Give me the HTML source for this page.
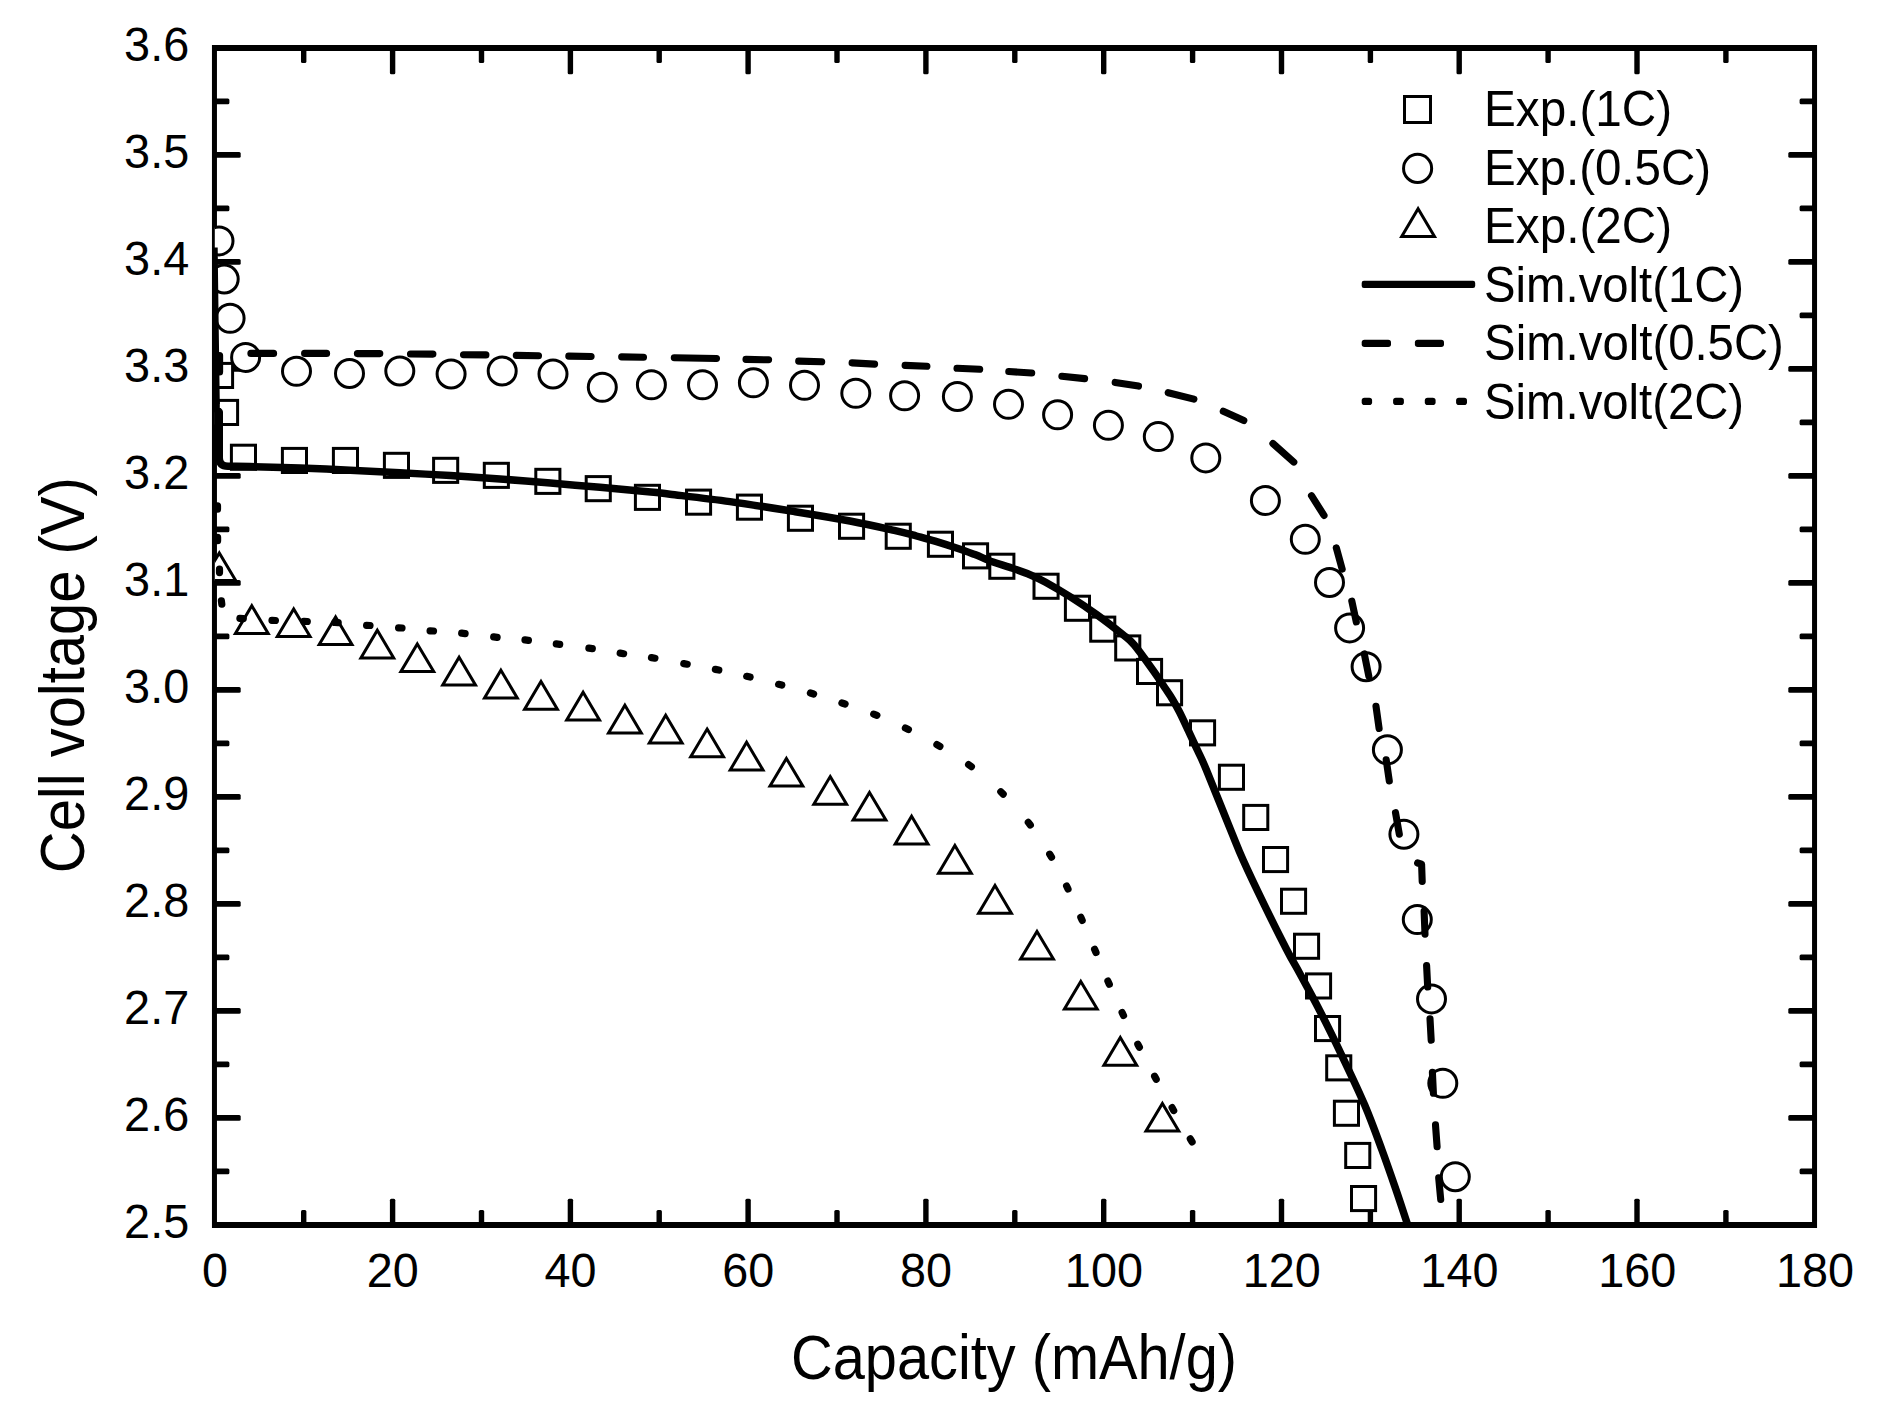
<!DOCTYPE html>
<html lang="en">
<head>
<meta charset="utf-8">
<title>Cell voltage vs capacity</title>
<style>
html,body{margin:0;padding:0;background:#fff;}
body{width:1877px;height:1410px;overflow:hidden;}
svg{display:block;}
</style>
</head>
<body>
<svg width="1877" height="1410" viewBox="0 0 1877 1410" font-family="'Liberation Sans', sans-serif" fill="#000">
<rect x="0" y="0" width="1877" height="1410" fill="#fff"/>
<defs><clipPath id="plot"><rect x="214.8" y="47.95" width="1599.7" height="1177.05"/></clipPath></defs>
<path id="frame" fill="#000" fill-rule="evenodd" d="M211.95 44.95H1817.05V1228H211.95ZM216.95 50.95V1222H1812.05V50.95Z"/>
<g id="ticks" fill="#000">
<rect x="301" y="1210.1" width="5.4" height="14.9" rx="1.5"/>
<rect x="301" y="48" width="5.4" height="14.9" rx="1.5"/>
<rect x="389.9" y="1198.8" width="5.4" height="26.2" rx="1.5"/>
<rect x="389.9" y="48" width="5.4" height="26.2" rx="1.5"/>
<rect x="478.8" y="1210.1" width="5.4" height="14.9" rx="1.5"/>
<rect x="478.8" y="48" width="5.4" height="14.9" rx="1.5"/>
<rect x="567.7" y="1198.8" width="5.4" height="26.2" rx="1.5"/>
<rect x="567.7" y="48" width="5.4" height="26.2" rx="1.5"/>
<rect x="656.5" y="1210.1" width="5.4" height="14.9" rx="1.5"/>
<rect x="656.5" y="48" width="5.4" height="14.9" rx="1.5"/>
<rect x="745.4" y="1198.8" width="5.4" height="26.2" rx="1.5"/>
<rect x="745.4" y="48" width="5.4" height="26.2" rx="1.5"/>
<rect x="834.3" y="1210.1" width="5.4" height="14.9" rx="1.5"/>
<rect x="834.3" y="48" width="5.4" height="14.9" rx="1.5"/>
<rect x="923.2" y="1198.8" width="5.4" height="26.2" rx="1.5"/>
<rect x="923.2" y="48" width="5.4" height="26.2" rx="1.5"/>
<rect x="1012.1" y="1210.1" width="5.4" height="14.9" rx="1.5"/>
<rect x="1012.1" y="48" width="5.4" height="14.9" rx="1.5"/>
<rect x="1101" y="1198.8" width="5.4" height="26.2" rx="1.5"/>
<rect x="1101" y="48" width="5.4" height="26.2" rx="1.5"/>
<rect x="1189.9" y="1210.1" width="5.4" height="14.9" rx="1.5"/>
<rect x="1189.9" y="48" width="5.4" height="14.9" rx="1.5"/>
<rect x="1278.8" y="1198.8" width="5.4" height="26.2" rx="1.5"/>
<rect x="1278.8" y="48" width="5.4" height="26.2" rx="1.5"/>
<rect x="1367.7" y="1210.1" width="5.4" height="14.9" rx="1.5"/>
<rect x="1367.7" y="48" width="5.4" height="14.9" rx="1.5"/>
<rect x="1456.5" y="1198.8" width="5.4" height="26.2" rx="1.5"/>
<rect x="1456.5" y="48" width="5.4" height="26.2" rx="1.5"/>
<rect x="1545.4" y="1210.1" width="5.4" height="14.9" rx="1.5"/>
<rect x="1545.4" y="48" width="5.4" height="14.9" rx="1.5"/>
<rect x="1634.3" y="1198.8" width="5.4" height="26.2" rx="1.5"/>
<rect x="1634.3" y="48" width="5.4" height="26.2" rx="1.5"/>
<rect x="1723.2" y="1210.1" width="5.4" height="14.9" rx="1.5"/>
<rect x="1723.2" y="48" width="5.4" height="14.9" rx="1.5"/>
<rect x="214.5" y="1168.6" width="14.9" height="5.7" rx="1.5"/>
<rect x="1799.6" y="1168.6" width="14.9" height="5.7" rx="1.5"/>
<rect x="214.5" y="1115.1" width="26.2" height="5.7" rx="1.5"/>
<rect x="1788.3" y="1115.1" width="26.2" height="5.7" rx="1.5"/>
<rect x="214.5" y="1061.6" width="14.9" height="5.7" rx="1.5"/>
<rect x="1799.6" y="1061.6" width="14.9" height="5.7" rx="1.5"/>
<rect x="214.5" y="1008.1" width="26.2" height="5.7" rx="1.5"/>
<rect x="1788.3" y="1008.1" width="26.2" height="5.7" rx="1.5"/>
<rect x="214.5" y="954.6" width="14.9" height="5.7" rx="1.5"/>
<rect x="1799.6" y="954.6" width="14.9" height="5.7" rx="1.5"/>
<rect x="214.5" y="901.1" width="26.2" height="5.7" rx="1.5"/>
<rect x="1788.3" y="901.1" width="26.2" height="5.7" rx="1.5"/>
<rect x="214.5" y="847.6" width="14.9" height="5.7" rx="1.5"/>
<rect x="1799.6" y="847.6" width="14.9" height="5.7" rx="1.5"/>
<rect x="214.5" y="794.1" width="26.2" height="5.7" rx="1.5"/>
<rect x="1788.3" y="794.1" width="26.2" height="5.7" rx="1.5"/>
<rect x="214.5" y="740.6" width="14.9" height="5.7" rx="1.5"/>
<rect x="1799.6" y="740.6" width="14.9" height="5.7" rx="1.5"/>
<rect x="214.5" y="687.1" width="26.2" height="5.7" rx="1.5"/>
<rect x="1788.3" y="687.1" width="26.2" height="5.7" rx="1.5"/>
<rect x="214.5" y="633.6" width="14.9" height="5.7" rx="1.5"/>
<rect x="1799.6" y="633.6" width="14.9" height="5.7" rx="1.5"/>
<rect x="214.5" y="580.1" width="26.2" height="5.7" rx="1.5"/>
<rect x="1788.3" y="580.1" width="26.2" height="5.7" rx="1.5"/>
<rect x="214.5" y="526.6" width="14.9" height="5.7" rx="1.5"/>
<rect x="1799.6" y="526.6" width="14.9" height="5.7" rx="1.5"/>
<rect x="214.5" y="473.1" width="26.2" height="5.7" rx="1.5"/>
<rect x="1788.3" y="473.1" width="26.2" height="5.7" rx="1.5"/>
<rect x="214.5" y="419.6" width="14.9" height="5.7" rx="1.5"/>
<rect x="1799.6" y="419.6" width="14.9" height="5.7" rx="1.5"/>
<rect x="214.5" y="366.1" width="26.2" height="5.7" rx="1.5"/>
<rect x="1788.3" y="366.1" width="26.2" height="5.7" rx="1.5"/>
<rect x="214.5" y="312.6" width="14.9" height="5.7" rx="1.5"/>
<rect x="1799.6" y="312.6" width="14.9" height="5.7" rx="1.5"/>
<rect x="214.5" y="259.1" width="26.2" height="5.7" rx="1.5"/>
<rect x="1788.3" y="259.1" width="26.2" height="5.7" rx="1.5"/>
<rect x="214.5" y="205.6" width="14.9" height="5.7" rx="1.5"/>
<rect x="1799.6" y="205.6" width="14.9" height="5.7" rx="1.5"/>
<rect x="214.5" y="152.1" width="26.2" height="5.7" rx="1.5"/>
<rect x="1788.3" y="152.1" width="26.2" height="5.7" rx="1.5"/>
<rect x="214.5" y="98.6" width="14.9" height="5.7" rx="1.5"/>
<rect x="1799.6" y="98.6" width="14.9" height="5.7" rx="1.5"/>
</g>
<g id="xlabels" font-size="48.5" text-anchor="middle">
<text x="215" y="1286.7" textLength="26.0" lengthAdjust="spacingAndGlyphs">0</text>
<text x="392.8" y="1286.7" textLength="52.0" lengthAdjust="spacingAndGlyphs">20</text>
<text x="570.6" y="1286.7" textLength="52.0" lengthAdjust="spacingAndGlyphs">40</text>
<text x="748.3" y="1286.7" textLength="52.0" lengthAdjust="spacingAndGlyphs">60</text>
<text x="926.1" y="1286.7" textLength="52.0" lengthAdjust="spacingAndGlyphs">80</text>
<text x="1103.9" y="1286.7" textLength="78.1" lengthAdjust="spacingAndGlyphs">100</text>
<text x="1281.7" y="1286.7" textLength="78.1" lengthAdjust="spacingAndGlyphs">120</text>
<text x="1459.4" y="1286.7" textLength="78.1" lengthAdjust="spacingAndGlyphs">140</text>
<text x="1637.2" y="1286.7" textLength="78.1" lengthAdjust="spacingAndGlyphs">160</text>
<text x="1815" y="1286.7" textLength="78.1" lengthAdjust="spacingAndGlyphs">180</text>
</g>
<g id="ylabels" font-size="48.5" text-anchor="end">
<text x="189.2" y="1237.8" textLength="65.1" lengthAdjust="spacingAndGlyphs">2.5</text>
<text x="189.2" y="1130.8" textLength="65.1" lengthAdjust="spacingAndGlyphs">2.6</text>
<text x="189.2" y="1023.8" textLength="65.1" lengthAdjust="spacingAndGlyphs">2.7</text>
<text x="189.2" y="916.8" textLength="65.1" lengthAdjust="spacingAndGlyphs">2.8</text>
<text x="189.2" y="809.8" textLength="65.1" lengthAdjust="spacingAndGlyphs">2.9</text>
<text x="189.2" y="702.8" textLength="65.1" lengthAdjust="spacingAndGlyphs">3.0</text>
<text x="189.2" y="595.8" textLength="65.1" lengthAdjust="spacingAndGlyphs">3.1</text>
<text x="189.2" y="488.8" textLength="65.1" lengthAdjust="spacingAndGlyphs">3.2</text>
<text x="189.2" y="381.8" textLength="65.1" lengthAdjust="spacingAndGlyphs">3.3</text>
<text x="189.2" y="274.8" textLength="65.1" lengthAdjust="spacingAndGlyphs">3.4</text>
<text x="189.2" y="167.8" textLength="65.1" lengthAdjust="spacingAndGlyphs">3.5</text>
<text x="189.2" y="60.8" textLength="65.1" lengthAdjust="spacingAndGlyphs">3.6</text>
</g>
<text id="xtitle" x="791" y="1379.2" font-size="62.2" textLength="446" lengthAdjust="spacingAndGlyphs">Capacity (mAh/g)</text>
<text id="ytitle" transform="translate(83.6 873.2) rotate(-90)" font-size="62.2" textLength="396" lengthAdjust="spacingAndGlyphs">Cell voltage (V)</text>
<g id="data" clip-path="url(#plot)">
<g id="squares" stroke="#000" stroke-width="3" fill="#fff">
<rect x="208.5" y="363.4" width="24.1" height="24.1"/>
<rect x="213.5" y="400.4" width="24.1" height="24.1"/>
<rect x="231.4" y="445.2" width="24.1" height="24.1"/>
<rect x="282.4" y="448.4" width="24.1" height="24.1"/>
<rect x="333.4" y="448.4" width="24.1" height="24.1"/>
<rect x="384.4" y="453.3" width="24.1" height="24.1"/>
<rect x="433.6" y="458.3" width="24.1" height="24.1"/>
<rect x="484.3" y="463.3" width="24.1" height="24.1"/>
<rect x="535.8" y="469.3" width="24.1" height="24.1"/>
<rect x="586.2" y="476.6" width="24.1" height="24.1"/>
<rect x="635.4" y="485.3" width="24.1" height="24.1"/>
<rect x="686.5" y="490.1" width="24.1" height="24.1"/>
<rect x="737.4" y="495.1" width="24.1" height="24.1"/>
<rect x="788.4" y="506.2" width="24.1" height="24.1"/>
<rect x="839.5" y="514.2" width="24.1" height="24.1"/>
<rect x="886.2" y="524.2" width="24.1" height="24.1"/>
<rect x="928.4" y="532.2" width="24.1" height="24.1"/>
<rect x="963.5" y="543.8" width="24.1" height="24.1"/>
<rect x="989.8" y="554.2" width="24.1" height="24.1"/>
<rect x="1034" y="574.2" width="24.1" height="24.1"/>
<rect x="1065.4" y="596.2" width="24.1" height="24.1"/>
<rect x="1090.7" y="617.1" width="24.1" height="24.1"/>
<rect x="1115.7" y="635.9" width="24.1" height="24.1"/>
<rect x="1137.5" y="659.4" width="24.1" height="24.1"/>
<rect x="1157.5" y="680.7" width="24.1" height="24.1"/>
<rect x="1190.5" y="720.8" width="24.1" height="24.1"/>
<rect x="1219.4" y="765.2" width="24.1" height="24.1"/>
<rect x="1243.7" y="805.4" width="24.1" height="24.1"/>
<rect x="1263.5" y="847.5" width="24.1" height="24.1"/>
<rect x="1281.5" y="889.2" width="24.1" height="24.1"/>
<rect x="1294.5" y="934.2" width="24.1" height="24.1"/>
<rect x="1306.5" y="973.9" width="24.1" height="24.1"/>
<rect x="1315.5" y="1016.5" width="24.1" height="24.1"/>
<rect x="1326.7" y="1055.8" width="24.1" height="24.1"/>
<rect x="1334.4" y="1101.2" width="24.1" height="24.1"/>
<rect x="1345.7" y="1143.4" width="24.1" height="24.1"/>
<rect x="1351.5" y="1186.5" width="24.1" height="24.1"/>
</g>
<g id="circles" stroke="#000" stroke-width="3" fill="#fff">
<circle cx="219" cy="240.9" r="14"/>
<circle cx="224.2" cy="279" r="14"/>
<circle cx="230.1" cy="318.3" r="14"/>
<circle cx="245.6" cy="357.4" r="14"/>
<circle cx="296.5" cy="371.3" r="14"/>
<circle cx="349.5" cy="373.5" r="14"/>
<circle cx="399.8" cy="371" r="14"/>
<circle cx="451.1" cy="374" r="14"/>
<circle cx="502.2" cy="371" r="14"/>
<circle cx="553" cy="374" r="14"/>
<circle cx="602.3" cy="387.3" r="14"/>
<circle cx="651.4" cy="384.8" r="14"/>
<circle cx="702.5" cy="384.8" r="14"/>
<circle cx="753.4" cy="382.8" r="14"/>
<circle cx="804.5" cy="385.3" r="14"/>
<circle cx="855.8" cy="393.3" r="14"/>
<circle cx="904.6" cy="395.8" r="14"/>
<circle cx="957.4" cy="396.5" r="14"/>
<circle cx="1008.5" cy="404.3" r="14"/>
<circle cx="1057.6" cy="414.8" r="14"/>
<circle cx="1108.4" cy="425.3" r="14"/>
<circle cx="1158.3" cy="436.6" r="14"/>
<circle cx="1205.8" cy="457.9" r="14"/>
<circle cx="1265.4" cy="500.5" r="14"/>
<circle cx="1305.3" cy="539.3" r="14"/>
<circle cx="1329.5" cy="582.5" r="14"/>
<circle cx="1349.6" cy="627.9" r="14"/>
<circle cx="1366.1" cy="666.7" r="14"/>
<circle cx="1387.4" cy="749.8" r="14"/>
<circle cx="1403.9" cy="834.2" r="14"/>
<circle cx="1417.3" cy="919.6" r="14"/>
<circle cx="1431.5" cy="998.9" r="14"/>
<circle cx="1442.8" cy="1083.3" r="14"/>
<circle cx="1455.3" cy="1176.7" r="14"/>
</g>
<g id="triangles" stroke="#000" stroke-width="3" fill="#fff" stroke-linejoin="miter">
<path d="M219.3 552.9L235.7 580.6L202.9 580.6Z"/>
<path d="M251.8 605.8L268.2 633.5L235.4 633.5Z"/>
<path d="M293.7 608.9L310.1 636.6L277.3 636.6Z"/>
<path d="M335.6 616.9L352 644.6L319.2 644.6Z"/>
<path d="M377.3 630.2L393.7 657.9L360.9 657.9Z"/>
<path d="M417.3 643.9L433.7 671.6L400.9 671.6Z"/>
<path d="M459.1 657.2L475.5 684.9L442.7 684.9Z"/>
<path d="M500.9 670.2L517.3 697.9L484.5 697.9Z"/>
<path d="M541 681.5L557.4 709.2L524.6 709.2Z"/>
<path d="M583.1 692.3L599.5 720L566.7 720Z"/>
<path d="M624.9 705.3L641.3 733L608.5 733Z"/>
<path d="M665.7 715.3L682.1 743L649.3 743Z"/>
<path d="M707.1 729.1L723.5 756.8L690.7 756.8Z"/>
<path d="M746.6 742.3L763 770L730.2 770Z"/>
<path d="M786.4 758.4L802.8 786.1L770 786.1Z"/>
<path d="M830.2 776.6L846.6 804.3L813.8 804.3Z"/>
<path d="M869.5 792.4L885.9 820.1L853.1 820.1Z"/>
<path d="M911.6 816.2L928 843.9L895.2 843.9Z"/>
<path d="M954.9 845.5L971.3 873.2L938.5 873.2Z"/>
<path d="M995 885.5L1011.4 913.2L978.6 913.2Z"/>
<path d="M1037 931.4L1053.4 959.1L1020.6 959.1Z"/>
<path d="M1080.8 981.4L1097.2 1009.1L1064.4 1009.1Z"/>
<path d="M1120.3 1037.5L1136.7 1065.2L1103.9 1065.2Z"/>
<path d="M1162.4 1103.4L1178.8 1131.1L1146 1131.1Z"/>
</g>
</g>
<path id="sim1c" d="M216.05 402L216.05 408.5L219.25 412L219.25 458Q219.3 466.2 228 466.3L232 466.3C235.0 466.4 238.7 466.3 250.0 466.6C261.3 466.9 283.3 467.5 300.0 468.1C316.7 468.7 333.5 469.4 350.2 470.2C366.9 471.0 383.3 471.8 400.0 472.7C416.7 473.6 433.7 474.6 450.4 475.6C467.1 476.7 483.3 477.8 500.0 479.0C516.7 480.2 533.8 481.7 550.5 483.1C567.2 484.5 583.3 485.8 600.0 487.3C616.7 488.8 639.0 490.8 650.7 491.9C662.4 493.0 656.8 492.6 670.0 494.2C683.2 495.8 709.1 498.7 730.0 501.6C750.9 504.5 775.2 508.5 795.2 511.7C815.2 514.9 833.3 517.9 850.0 521.0C866.7 524.1 884.2 528.1 895.3 530.6C906.4 533.1 909.8 534.2 916.4 536.0C923.0 537.8 928.1 539.1 935.0 541.2C941.9 543.3 951.3 546.3 958.0 548.5C964.7 550.7 969.1 552.4 975.0 554.6C980.9 556.9 987.3 559.9 993.1 562.0C998.9 564.1 1003.9 565.3 1010.0 567.4C1016.1 569.5 1024.1 572.2 1030.0 574.7C1035.9 577.2 1038.7 578.4 1045.6 582.2C1052.5 586.0 1062.7 592.0 1071.2 597.4C1079.7 602.8 1088.2 608.5 1096.7 614.6C1105.2 620.7 1116.1 629.2 1122.3 634.2C1128.5 639.2 1129.0 638.8 1134.1 644.8C1139.2 650.8 1147.9 663.2 1153.0 670.3C1158.1 677.4 1161.5 682.7 1164.7 687.5C1167.9 692.3 1169.9 695.1 1172.4 699.2C1174.9 703.3 1176.8 706.7 1179.5 712.0C1182.2 717.3 1185.6 724.8 1188.6 731.2C1191.6 737.6 1194.6 743.9 1197.5 750.3C1200.4 756.7 1200.7 756.2 1206.2 769.5C1211.7 782.8 1224.4 814.7 1230.6 829.8C1236.8 844.9 1237.5 847.5 1243.1 860.0C1248.7 872.5 1257.0 889.9 1264.3 904.8C1271.5 919.7 1280.7 938.0 1286.6 949.5C1292.5 961.0 1294.3 963.4 1299.8 973.5C1305.3 983.6 1312.5 996.5 1319.4 1010.0C1326.4 1023.5 1334.0 1039.0 1341.5 1054.8C1349.0 1070.6 1357.9 1089.0 1364.6 1104.8C1371.3 1120.6 1376.6 1135.4 1381.8 1149.5C1387.0 1163.6 1391.6 1177.0 1395.9 1189.5C1400.2 1202.0 1405.6 1218.7 1407.6 1224.5" stroke="#000" stroke-width="7.5" fill="none" stroke-linejoin="round" stroke-linecap="butt"/>
<path d="M214 247.5L217.7 247.5Q218.2 290 218.9 340L219.8 404L214 404Z" fill="#000"/>
<path d="M215.6 398V452" stroke="#000" stroke-width="2.6" fill="none"/>
<path id="sim05c" d="M219.6 355.5L219.6 372M250.9 353.4L273.6 353.4M304.6 353.4L326.6 353.4M357.4 353.6L379.8 353.6M410.5 354.0L432.9 354.1M463.5 354.7L485.9 354.9M516.3 355.4L538.5 355.7M568.8 356.1L591.1 356.5M621.7 356.9L643.5 357.2M674.3 357.8L716.5 358.5M746.0 359.4L768.6 359.8M798.7 361.1L821.7 361.8M852.1 362.9L874.6 364.1M905.1 365.4L926.9 366.3M957.0 368.3L979.7 369.3M1008.8 371.5L1031.7 373.0M1061.9 376.2L1084.6 378.6M1115.2 382.4L1138.5 386.1M1168.2 392.7L1193.9 399.1M1223.3 411.3L1243.8 420.5M1272.9 443.5L1293.8 462.1M1311.5 495.7L1324.0 515.4M1336.3 547.8L1342.2 569.2M1351.8 601.1L1356.3 621.9M1364.3 653.9L1368.8 676.1M1376.0 706.3L1379.1 728.5M1386.2 759.8L1389.3 780.9M1395.5 812.7L1399.3 834.2M1417.6 863.0L1421.6 864.2L1422.2 881.5M1424.1 911.1L1425.0 934.1M1426.6 965.5L1427.7 987.0M1430.0 1018.7L1431.2 1040.2M1432.4 1072.3L1433.4 1093.3M1435.5 1124.9L1437.1 1146.7M1438.7 1177.9L1440.7 1199.5" stroke="#000" stroke-width="7.1" fill="none" stroke-linecap="round" stroke-linejoin="round"/>
<path id="sim2c" d="M217.5 505.8L217.5 509.2M217.6 537.3L217.6 540.7M219.5 569.2L219.5 572.6M221.4 600.8L221.8 604.2M239.9 618.4L243.3 618.6M272.0 620.3L275.4 620.5M303.9 621.3L307.3 621.5M334.8 622.5L338.2 622.7M366.6 625.3L370.0 625.5M398.6 627.8L402.0 628.0M430.1 630.8L433.5 631.0M461.7 633.2L465.1 633.6M493.7 636.9L497.1 637.3M525.0 639.9L528.4 640.3M556.3 643.9L559.7 644.3M588.9 648.2L592.3 648.6M620.2 653.1L623.6 653.7M651.5 657.6L654.9 658.2M683.8 663.6L687.2 664.2M715.4 669.4L718.8 670.0M746.7 676.3L750.1 677.1M778.6 684.3L781.8 685.1M810.4 693.0L813.6 694.0M841.9 703.0L845.1 704.0M873.7 714.1L876.9 715.3M905.4 728.1L908.4 729.5M936.9 744.6L939.9 746.4M968.6 764.6L971.4 766.6M1000.8 791.7L1003.2 794.1M1028.3 822.4L1030.3 825.0M1049.7 854.2L1051.5 857.2M1066.6 886.0L1068.0 889.0M1080.8 917.2L1082.2 920.4M1094.6 949.3L1096.0 952.5M1107.9 981.1L1109.3 984.3M1122.1 1012.5L1123.5 1015.5M1137.8 1044.2L1139.4 1047.2M1154.6 1076.3L1156.2 1079.3M1172.1 1107.6L1173.7 1110.6M1190.3 1138.9L1192.1 1141.9" stroke="#000" stroke-width="7.2" fill="none" stroke-linecap="round"/>
<g id="legend">
<rect x="1404.5" y="96.5" width="26" height="26" stroke="#000" stroke-width="3" fill="none"/>
<circle cx="1417.6" cy="168.4" r="14.05" stroke="#000" stroke-width="3" fill="none"/>
<path d="M1418.1 208.7L1434.5 236.4L1401.7 236.4Z" stroke="#000" stroke-width="3" fill="none"/>
<rect x="1361.7" y="280.7" width="113.5" height="7.3" rx="2.2"/>
<rect x="1361.7" y="339.8" width="29.3" height="7.25" rx="2.8"/>
<rect x="1414.9" y="339.8" width="29.1" height="7.25" rx="2.8"/>
<rect x="1361.7" y="397.8" width="10.4" height="7.2" rx="2.8"/>
<rect x="1393.1" y="397.8" width="10.8" height="7.2" rx="2.8"/>
<rect x="1424.8" y="397.8" width="10.8" height="7.2" rx="2.8"/>
<rect x="1456.1" y="397.8" width="10.9" height="7.2" rx="2.8"/>
<g font-size="49.4">
<text x="1484.1" y="125.95" textLength="188.0" lengthAdjust="spacingAndGlyphs">Exp.(1C)</text>
<text x="1484.1" y="184.85" textLength="227.0" lengthAdjust="spacingAndGlyphs">Exp.(0.5C)</text>
<text x="1484.1" y="243.0" textLength="188.0" lengthAdjust="spacingAndGlyphs">Exp.(2C)</text>
<text x="1484.1" y="301.9" textLength="260.0" lengthAdjust="spacingAndGlyphs">Sim.volt(1C)</text>
<text x="1484.1" y="359.85" textLength="299.8" lengthAdjust="spacingAndGlyphs">Sim.volt(0.5C)</text>
<text x="1484.1" y="419.0" textLength="260.0" lengthAdjust="spacingAndGlyphs">Sim.volt(2C)</text>
</g>
</g>
</svg>
</body>
</html>
